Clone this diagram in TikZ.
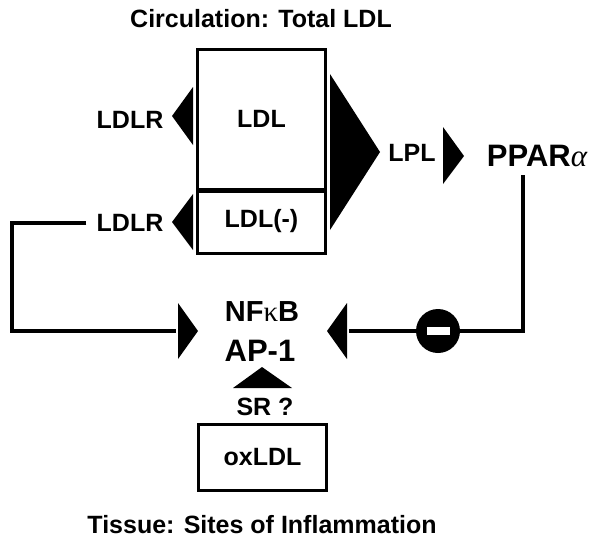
\documentclass[tikz,border=0pt]{standalone}
\usepackage{fontspec}
\setmainfont{Liberation Sans}
\newfontfamily\grk{Liberation Serif}

\tikzset{
  lab/.style={font=\bfseries\fontsize{25}{25}\selectfont, inner sep=2pt},
  biglab/.style={font=\bfseries\fontsize{31}{31}\selectfont, inner sep=2pt},
  pool/.style={draw, line width=3pt, inner sep=0pt, font=\bfseries\fontsize{25}{25}\selectfont},
  wire/.style={line width=4pt},
  head/.style={fill=black}
}

\begin{document}
\begin{tikzpicture}[x=1pt,y=-1pt]
        \useasboundingbox (0,0) rectangle (601,542);

        \node[lab] (circ)   at (261,19)  {Circulation: Total LDL};
        \node[lab] (tissue) at (262,525) {Tissue: Sites of Inflammation};

        \node[pool, minimum width=128, minimum height=140] (ldl) at (261.5,119) {LDL};
        \node[pool, minimum width=128, minimum height=64] (ldlm) at (261.5,221) {LDL(-)};
        \draw[line width=5pt] (ldl.south west) -- (ldl.south east);
        \node[pool, minimum width=128, minimum height=66] (ox) at (262.5,457) {oxLDL};

        \begin{scope}[every node/.style={lab}]
          \node (ldlr1) at (130,120) {LDLR};
          \node (ldlr2) at (130,223) {LDLR};
          \node (lpl)   at (412,153) {LPL};
          \node (sr)    at (265,407) {SR ?};
        \end{scope}

        \begin{scope}[every node/.style={biglab}]
          \node (ppar) at (537,156) {PPAR{\mdseries\grk\itshape α}};
          \node[font=\bfseries\fontsize{29}{29}\selectfont] (nfkb) at (262,312) {NF{\mdseries\grk κ}B};
          \node (ap1)  at (260,351) {AP-1};
        \end{scope}

        \fill[head] (193,87)  -- (193,145) -- (172,116) -- cycle;
        \fill[head] (193,194) -- (193,250) -- (172,222) -- cycle;
        \fill[head] (330,74)  -- (330,230) -- (380,152) -- cycle;
        \fill[head] (443,127) -- (443,184) -- (464,156) -- cycle;
        \fill[head] (178,303) -- (178,359) -- (198,331) -- cycle;
        \fill[head] (347,303) -- (347,359) -- (327,331) -- cycle;
        \fill[head] (233,388) -- (292,388) -- (262,367) -- cycle;

        \coordinate (bend)  at (12,331);
        \coordinate (nfin)  at (176,331);
        \coordinate (nfout) at (349,331);

        \node[circle, fill, minimum size=44, inner sep=0pt] (inh) at (438,331) {};
        \fill[white] (inh.center) ++(-11.5,-4) rectangle ++(23,8);

        \draw[wire] ([xshift=-8pt]ldlr2.west) -| (bend) -- (nfin);
        \draw[wire] ([xshift=-14pt,yshift=-6pt]ppar.south) |- (inh.east);
        \draw[wire] (inh.west) -- (nfout);

\end{tikzpicture}
\end{document}
